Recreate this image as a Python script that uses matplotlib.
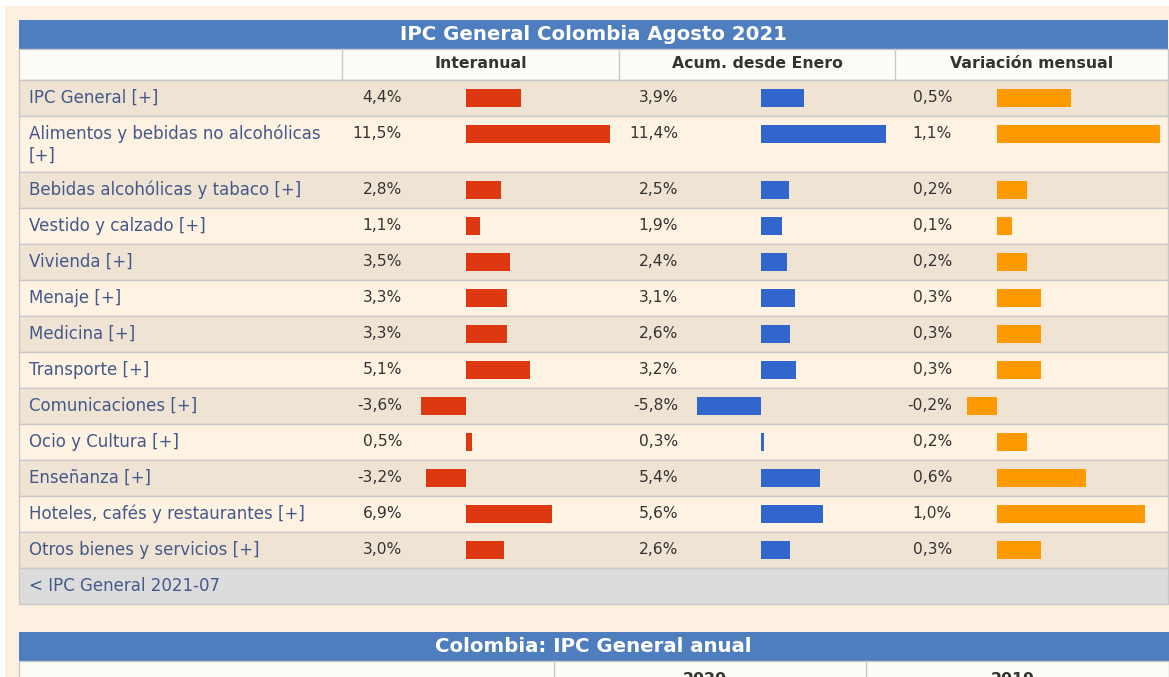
import matplotlib
matplotlib.use("Agg")
import matplotlib.pyplot as plt
from matplotlib.patches import Rectangle

# data
title = "IPC General Colombia Agosto 2021"
col_titles = ["Interanual", "Acum. desde Enero", "Variación mensual"]
categories = [
    "IPC General [+]",
    "Alimentos y bebidas no alcohólicas\n[+]",
    "Bebidas alcohólicas y tabaco [+]",
    "Vestido y calzado [+]",
    "Vivienda [+]",
    "Menaje [+]",
    "Medicina [+]",
    "Transporte [+]",
    "Comunicaciones [+]",
    "Ocio y Cultura [+]",
    "Enseñanza [+]",
    "Hoteles, cafés y restaurantes [+]",
    "Otros bienes y servicios [+]",
]
interanual = [4.4, 11.5, 2.8, 1.1, 3.5, 3.3, 3.3, 5.1, -3.6, 0.5, -3.2, 6.9, 3.0]
acumulado = [3.9, 11.4, 2.5, 1.9, 2.4, 3.1, 2.6, 3.2, -5.8, 0.3, 5.4, 5.6, 2.6]
mensual = [0.5, 1.1, 0.2, 0.1, 0.2, 0.3, 0.3, 0.3, -0.2, 0.2, 0.6, 1.0, 0.3]
footer = "< IPC General 2021-07"
title2 = "Colombia: IPC General anual"
col_titles2 = ["2020", "2019"]

# layout (pixels)
W, H = 1169, 677
x0, x1 = 19, 1168
col_edges = [342, 619, 895]
row_heights = [36, 56] + [36] * 11
first_row_top = 80

bar_colors = ["#DC3912", "#3366CC", "#FF9900"]
zero_px = [466, 761, 997]
px_per_unit = [12.5, 11.0, 148.0]
value_right = [402, 678, 952]

c_bg = "#FDF0E1"
c_title = "#4E7EBE"
c_odd = "#EFE4D4"
c_even = "#FEF2E3"
c_head = "#FEFCF7"
c_line = "#C8C8C8"
c_label = "#44598A"
c_value = "#333333"
font = "DejaVu Sans"
fs_label = 12.0
fs_value = 11.2
fs_head = 11.3
fs_title = 14.2

fig = plt.figure(figsize=(W / 100, H / 100), dpi=100)
fig.patch.set_facecolor("white")
bg = fig.add_axes([0, 0, 1, 1])
bg.set_xlim(0, W)
bg.set_ylim(H, 0)
bg.axis("off")

bg.add_patch(Rectangle((5, 6), W - 5, H - 6, facecolor=c_bg, edgecolor="none"))

# title bar
bg.add_patch(Rectangle((x0, 20), x1 - x0, 29, facecolor=c_title, edgecolor="none"))
bg.text((x0 + x1) / 2, 34.5, title, color="white", fontsize=fs_title, fontweight="bold",
        ha="center", va="center", family=font)

# header row
bg.add_patch(Rectangle((x0, 49), x1 - x0, 31, facecolor=c_head, edgecolor=c_line, lw=1))
for i, name in enumerate(col_titles):
    left = col_edges[i]
    right = col_edges[i + 1] if i + 1 < len(col_edges) else x1
    bg.plot([left, left], [49, 80], color=c_line, lw=1)
    bg.text((left + right) / 2, 63.5, name, color=c_value, fontsize=fs_head, fontweight="bold",
            ha="center", va="center", family=font)

# body rows
tops = []
y = first_row_top
for i, h in enumerate(row_heights):
    tops.append(y)
    bg.add_patch(Rectangle((x0, y), x1 - x0, h, facecolor=c_odd if i % 2 == 0 else c_even,
                           edgecolor=c_line, lw=1))
    y += h
table_bottom = y

centers = [t + 18 for t in tops]

for i, lab in enumerate(categories):
    for k, line in enumerate(lab.split("\n")):
        bg.text(29, centers[i] + k * 22, line, color=c_label, fontsize=fs_label,
                ha="left", va="center", family=font)

series = [interanual, acumulado, mensual]
for j, vals in enumerate(series):
    for i, v in enumerate(vals):
        txt = f"{v:.1f}".replace(".", ",") + "%"
        bg.text(value_right[j], centers[i], txt, color=c_value, fontsize=fs_value,
                ha="right", va="center", family=font)

# bars: one axes per column, sharing the pixel y scale
for j, vals in enumerate(series):
    left = col_edges[j]
    right = col_edges[j + 1] if j + 1 < len(col_edges) else x1
    ax = fig.add_axes([left / W, 0, (right - left) / W, 1])
    ax.set_xlim((left - zero_px[j]) / px_per_unit[j], (right - zero_px[j]) / px_per_unit[j])
    ax.set_ylim(H, 0)
    ax.axis("off")
    ax.patch.set_alpha(0)
    ax.barh(centers, vals, height=18, color=bar_colors[j], edgecolor="none")

# footer row
bg.add_patch(Rectangle((x0, table_bottom), x1 - x0, 36, facecolor="#DCDCDC",
                       edgecolor=c_line, lw=1))
bg.text(29, table_bottom + 18, footer, color=c_label, fontsize=fs_label, ha="left", va="center",
        family=font)

# second table (cut off at the bottom, as in the source)
bg.add_patch(Rectangle((x0, 632), W - x0, 29, facecolor=c_title, edgecolor="none"))
bg.text((x0 + x1) / 2, 646, title2, color="white", fontsize=fs_title, fontweight="bold",
        ha="center", va="center", family=font)
bg.add_patch(Rectangle((x0, 661), W - x0, 20, facecolor=c_head, edgecolor=c_line, lw=1))
for xl, xr, name in [(554, 866, col_titles2[0]), (866, W, col_titles2[1])]:
    bg.plot([xl, xl], [661, H], color=c_line, lw=1)
    bg.text((xl + xr) / 2 - 5, 684, name, color=c_value, fontsize=fs_head, fontweight="bold",
            ha="center", va="baseline", family=font, clip_on=False)

fig.savefig("out.png", dpi=100, facecolor=fig.get_facecolor())
